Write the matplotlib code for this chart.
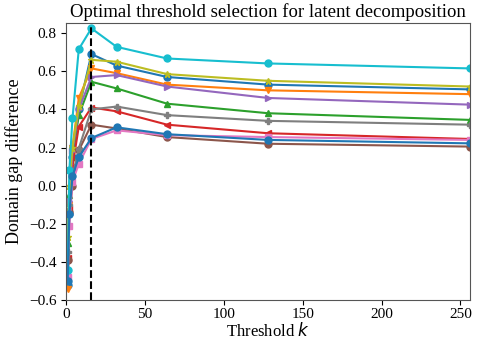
import matplotlib
matplotlib.use("Agg")
import matplotlib.pyplot as plt

thresholds = [1, 2, 4, 8, 16, 32, 64, 128, 256]

s_blue = [-0.52, -0.15, 0.15, 0.40, 0.69, 0.63, 0.57, 0.53, 0.505]
s_orange = [-0.54, -0.10, 0.20, 0.46, 0.615, 0.59, 0.53, 0.50, 0.48]
s_green = [-0.30, -0.05, 0.15, 0.37, 0.545, 0.51, 0.43, 0.38, 0.345]
s_red = [-0.38, -0.12, 0.10, 0.31, 0.41, 0.39, 0.32, 0.275, 0.245]
s_purple = [-0.48, -0.08, 0.18, 0.40, 0.57, 0.58, 0.52, 0.46, 0.425]
s_brown = [-0.39, -0.14, 0.0, 0.185, 0.32, 0.30, 0.255, 0.22, 0.205]
s_pink = [-0.48, -0.21, 0.02, 0.115, 0.245, 0.29, 0.265, 0.255, 0.24]
s_gray = [-0.35, -0.10, 0.05, 0.195, 0.40, 0.415, 0.37, 0.34, 0.32]
s_olive = [-0.27, 0.0, 0.20, 0.42, 0.66, 0.65, 0.585, 0.55, 0.52]
s_cyan = [-0.44, 0.08, 0.353, 0.716, 0.825, 0.728, 0.667, 0.641, 0.615]
s_blue2 = [-0.50, -0.15, 0.05, 0.15, 0.25, 0.306, 0.27, 0.24, 0.222]

series = [s_blue, s_orange, s_green, s_red, s_purple, s_brown, s_pink,
          s_gray, s_olive, s_cyan, s_blue2]
markers = ['o', 'v', '^', '<', '>', 'o', 's', 'P', '*', 'o', 'o']
colors = ['tab:blue', 'tab:orange', 'tab:green', 'tab:red', 'tab:purple',
          'tab:brown', 'tab:pink', 'tab:gray', 'tab:olive', 'tab:cyan', 'tab:blue']

best_k = 16

plt.rcParams['font.family'] = ['Liberation Serif', 'DejaVu Serif']
plt.rcParams['mathtext.fontset'] = 'dejavusans'

fig = plt.figure(figsize=(4.83, 3.43), dpi=100)
ax = fig.add_axes([0.137, 0.125, 0.836, 0.809])

for vals, m, c in zip(series, markers, colors):
    ax.plot(thresholds, vals, marker=m, color=c, linewidth=1.5, markersize=5)

ax.axvline(best_k, color='black', linestyle='--', linewidth=1.5)

ax.set_xlim(0, 256)
ax.set_ylim(-0.6, 0.855)
ax.set_xticks([0, 50, 100, 150, 200, 250])
ax.set_yticks([-0.6, -0.4, -0.2, 0.0, 0.2, 0.4, 0.6, 0.8])
ax.tick_params(labelsize=11)
ax.tick_params(axis='x', pad=2)
for s in ax.spines.values():
    s.set_color('#555555')

ax.set_title('Optimal threshold selection for latent decomposition', fontsize=13.5, pad=4)
ax.set_xlabel('Threshold $k$', fontsize=12, labelpad=1)
ax.set_ylabel('Domain gap difference', fontsize=13)

fig.savefig('out.png', dpi=100)
